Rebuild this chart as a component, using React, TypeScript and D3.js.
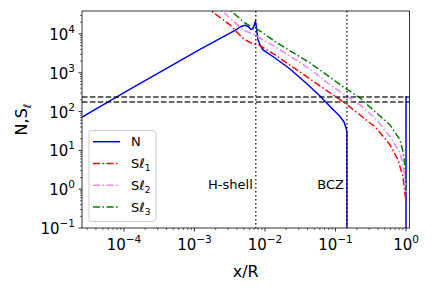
import React from "react";
import * as d3 from "d3";

// Brunt-Vaisala frequency N and Lamb frequencies S_l against fractional radius
const nX = [2.5e-5, 1.14e-4, 1.16e-3, 3.75e-3, 4.57e-3, 5.2e-3, 5.74e-3, 6.33e-3, 6.76e-3, 7.1e-3, 7.33e-3, 7.57e-3, 7.96e-3, 8.49e-3, 9.37e-3, 0.0139, 0.0226, 0.0382, 0.0603, 0.0836, 0.116, 0.132, 0.141, 0.145, 0.1452, null, 0.9995, 1.0];
const nVal = [71, 350, 3870, 12300, 15600, 16700, 15600, 13100, 13500, 18100, 21000, 14300, 7000, 5200, 3870, 2400, 1250, 546, 252, 135, 74.8, 54, 37.8, 29.8, 0.01, null, 0.01, 252];

const s1X = [1.41e-3, 1.75e-3, 3.19e-3, 4.88e-3, 6.12e-3, 7.33e-3, 7.96e-3, 9.37e-3, 0.0118, 0.0139, 0.0435, 0.141, 0.223, 0.308, 0.363, 0.593, 0.77, 0.906, 0.99, 1.0];
const s1Val = [55800, 38500, 17100, 7660, 6040, 5520, 5360, 4480, 3430, 2880, 692, 157, 81.7, 50.8, 40.8, 13.8, 5.66, 2.1, 0.527, 0.42];

const s2X = [1.89e-3, 2.46e-3, 4.88e-3, 7.21e-3, 9.37e-3, 0.0139, 0.0435, 0.0836, 0.223, 0.363, 0.593, 0.822, 0.937, 0.99, 1.0];
const s2Val = [59300, 39200, 12700, 9420, 7000, 4710, 1250, 485, 148, 68.4, 22.5, 8.57, 3.13, 0.953, 0.73];

const s3X = [2.62e-3, 3.37e-3, 4.88e-3, 6.76e-3, 7.45e-3, 9.37e-3, 0.0139, 0.0435, 0.136, 0.223, 0.363, 0.593, 0.822, 0.916, 0.99, 1.0];
const s3Val = [58600, 38500, 20700, 14300, 13900, 10600, 6340, 1790, 405, 224, 99.3, 45.2, 18.5, 8.57, 2.62, 1.03];

const hLines = [238, 177];
const zoneX = [0.0074, 0.145];
const zoneNames = ["H-shell", "BCZ"];
const xExps = [-4, -3, -2, -1, 0];
const yExps = [-1, 0, 1, 2, 3, 4];

const series = [
  { label: "N", sub: "", xs: nX, ys: nVal, color: "#0000ff", dash: "" },
  { label: "S\u2113", sub: "1", xs: s1X, ys: s1Val, color: "#ff0000", dash: "7,2.5,1.5,2.5" },
  { label: "S\u2113", sub: "2", xs: s2X, ys: s2Val, color: "#ee82ee", dash: "7,2.5,1.5,2.5" },
  { label: "S\u2113", sub: "3", xs: s3X, ys: s3Val, color: "#008000", dash: "7,2.5,1.5,2.5" },
];

const left = 82, right = 409.5, top = 11, bottom = 228;
const font = "DejaVu Sans, sans-serif";

function minors(lo, hi) {
  const out = [];
  for (let e = Math.floor(Math.log10(lo)); e <= Math.ceil(Math.log10(hi)); e++) {
    for (let m = 2; m < 10; m++) {
      const v = m * Math.pow(10, e);
      if (v >= lo && v <= hi) out.push(v);
    }
  }
  return out;
}

function expText(e) {
  return e < 0 ? "\u2212" + Math.abs(e) : String(e);
}

export default function App() {
  const x = d3.scaleLog().domain([2.54e-5, 1.12]).range([left, right]);
  const y = d3.scaleLog().domain([0.1, 3.9e4]).range([bottom, top]);

  const line = d3
    .line<[number | null, number | null]>()
    .defined((d) => d[0] != null && d[1] != null)
    .x((d) => x(d[0] as number))
    .y((d) => y(d[1] as number));

  const xMinor = minors(2.54e-5, 1.12);
  const yMinor = minors(0.1, 3.9e4);

  return (
    <svg width={432} height={288} style={{ position: "absolute", left: 0, top: 0 }} fontFamily={font}>
      <defs>
        <clipPath id="plot">
          <rect x={left} y={top} width={right - left} height={bottom - top} />
        </clipPath>
      </defs>
      <rect width={432} height={288} fill="white" />

      <g clipPath="url(#plot)">
        {series.map((s, i) => (
          <path
            key={i}
            d={line(s.xs.map((v, j) => [v, s.ys[j]])) || ""}
            fill="none"
            stroke={s.color}
            strokeWidth={1.5}
            strokeDasharray={s.dash || undefined}
          />
        ))}
        {hLines.map((v, i) => (
          <line key={i} x1={left} x2={right} y1={y(v)} y2={y(v)} stroke="#000" strokeOpacity={0.8} strokeWidth={1.5} strokeDasharray="5.5,2.4" />
        ))}
        {zoneX.map((v, i) => (
          <line key={i} x1={x(v)} x2={x(v)} y1={top} y2={bottom} stroke="#000" strokeOpacity={0.8} strokeWidth={1.5} strokeDasharray="1.5,2.5" />
        ))}
      </g>

      {zoneX.map((v, i) => (
        <text key={i} x={x(v) - 3} y={y(1)} textAnchor="end" fontSize={13}>
          {zoneNames[i]}
        </text>
      ))}

      {/* axes frame */}
      <rect x={left} y={top} width={right - left} height={bottom - top} fill="none" stroke="#000" strokeWidth={0.8} />

      {xMinor.map((v, i) => (
        <line key={i} x1={x(v)} x2={x(v)} y1={bottom} y2={bottom + 2} stroke="#000" strokeWidth={0.6} />
      ))}
      {yMinor.map((v, i) => (
        <line key={i} x1={left} x2={left - 2} y1={y(v)} y2={y(v)} stroke="#000" strokeWidth={0.6} />
      ))}
      {xExps.map((e) => (
        <g key={e}>
          <line x1={x(Math.pow(10, e))} x2={x(Math.pow(10, e))} y1={bottom} y2={bottom + 3.5} stroke="#000" strokeWidth={0.8} />
          <text x={x(Math.pow(10, e))} y={bottom + 22} textAnchor="middle" fontSize={15}>
            10<tspan dy={-7} fontSize={10.5}>{expText(e)}</tspan>
          </text>
        </g>
      ))}
      {yExps.map((e) => (
        <g key={e}>
          <line x1={left} x2={left - 3.5} y1={y(Math.pow(10, e))} y2={y(Math.pow(10, e))} stroke="#000" strokeWidth={0.8} />
          <text x={left - 7} y={y(Math.pow(10, e)) + 6} textAnchor="end" fontSize={15}>
            10<tspan dy={-7} fontSize={10.5}>{expText(e)}</tspan>
          </text>
        </g>
      ))}

      <text x={(left + right) / 2} y={277} textAnchor="middle" fontSize={16}>x/R</text>
      <text transform={`translate(27,${(top + bottom) / 2}) rotate(-90)`} textAnchor="middle" fontSize={16}>
        N,S<tspan dy={4} fontSize={11}>{"\u2113"}</tspan>
      </text>

      {/* legend */}
      <rect x={89} y={130.5} width={67} height={91} rx={3} fill="white" fillOpacity={0.8} stroke="#cccccc" strokeWidth={1} />
      {series.map((s, i) => {
        const ly = 141.7 + i * 21.8;
        return (
          <g key={i}>
            <line x1={93} x2={120} y1={ly} y2={ly} stroke={s.color} strokeWidth={1.5} strokeDasharray={s.dash || undefined} />
            <text x={131} y={ly + 4.6} fontSize={13}>
              {s.label}
              {s.sub && <tspan dy={3} fontSize={9}>{s.sub}</tspan>}
            </text>
          </g>
        );
      })}
    </svg>
  );
}
